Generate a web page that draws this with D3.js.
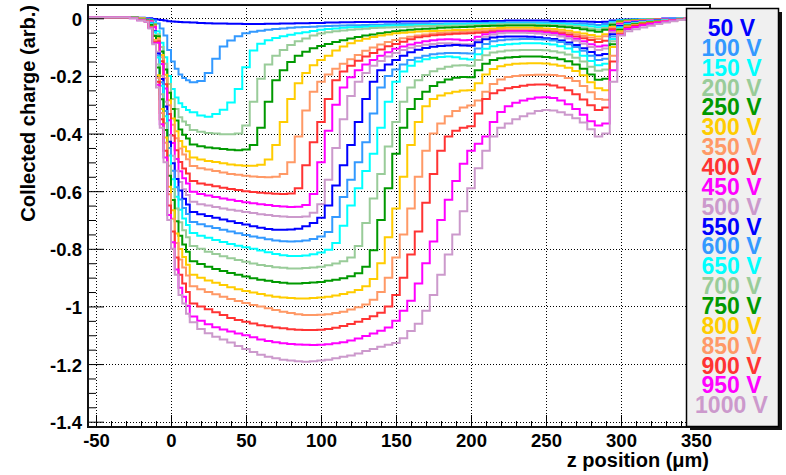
<!DOCTYPE html>
<html>
<head>
<meta charset="utf-8">
<script src="https://cdn.jsdelivr.net/npm/d3@7"></script>
<style>
  body { margin: 0; background: #fff; }
  svg { display: block; font-family: "Liberation Sans", Arial, sans-serif; font-weight: bold; }
</style>
</head>
<body>
<svg id="chart" width="786" height="475"></svg>
<script>
// bin edges along z (um): 5 um bins, 2.5 um bins across the entrance edge
const zEdges = [...d3.range(-57.5, -17.5, 5), ...d3.range(-17.5, 12.5, 2.5), ...d3.range(12.5, 357.6, 5)];

const voltages = [50, 100, 150, 200, 250, 300, 350, 400, 450, 500,
  550, 600, 650, 700, 750, 800, 850, 900, 950, 1000];
const colors = ["#0000ff", "#3399ff", "#00ffff", "#99cc99", "#009900",
  "#ffcc00", "#ff9966", "#ff3333", "#ff00ff", "#cc99cc",
  "#0000ff", "#3399ff", "#00ffff", "#99cc99", "#009900",
  "#ffcc00", "#ff9966", "#ff3333", "#ff00ff", "#cc99cc"];

const xTicks = [-50, 0, 50, 100, 150, 200, 250, 300, 350];
const yTicks = [0, -0.2, -0.4, -0.6, -0.8, -1, -1.2, -1.4];

// collected charge per bin, one array per bias voltage
const q50 = [0.003, 0.003, 0.003, 0.003, 0.003, 0.003, 0.003, 0.002,
  0.001, 0.0, -0.002, -0.004, -0.006, -0.008, -0.01, -0.011, -0.012, -0.013, -0.014, -0.014,
  -0.015, -0.016,
  -0.017, -0.018, -0.018, -0.019, -0.019, -0.02, -0.02, -0.02, -0.019, -0.019, -0.018, -0.018, -0.017, -0.017, -0.016, -0.016,
  -0.015, -0.015, -0.014, -0.014, -0.013, -0.013, -0.013, -0.012, -0.012, -0.012, -0.011, -0.011, -0.011, -0.011, -0.01, -0.01, -0.01, -0.01, -0.01, -0.01,
  -0.01, -0.009, -0.009, -0.009, -0.008, -0.008, -0.008, -0.008, -0.008, -0.008, -0.009, -0.009, -0.01, -0.01, -0.011, -0.012, -0.013, -0.012, -0.008, -0.005,
  -0.004, -0.003, -0.003, -0.002, -0.002, -0.001, -0.001, 0, 0, 0, 0];
const q100 = [0.004, 0.004, 0.004, 0.004, 0.004, 0.004, 0.003, 0.001,
  0.0, -0.003, -0.008, -0.018, -0.035, -0.06, -0.11, -0.15, -0.175, -0.195, -0.207, -0.215,
  -0.222, -0.218,
  -0.19, -0.14, -0.098, -0.077, -0.062, -0.052, -0.047, -0.043, -0.04, -0.037, -0.035, -0.033, -0.031, -0.03, -0.029, -0.028,
  -0.027, -0.026, -0.025, -0.024, -0.024, -0.023, -0.022, -0.022, -0.021, -0.021, -0.02, -0.02, -0.02, -0.019, -0.019, -0.019, -0.018, -0.018, -0.018, -0.017,
  -0.016, -0.016, -0.015, -0.015, -0.015, -0.015, -0.015, -0.015, -0.015, -0.015, -0.016, -0.016, -0.017, -0.018, -0.019, -0.021, -0.023, -0.02, -0.012, -0.007,
  -0.005, -0.004, -0.003, -0.003, -0.002, -0.002, -0.001, -0.001, 0, 0, 0];
const q150 = [0.004, 0.004, 0.004, 0.004, 0.004, 0.004, 0.003, 0.0,
  -0.002, -0.006, -0.016, -0.045, -0.085, -0.135, -0.2, -0.245, -0.275, -0.295, -0.308, -0.318,
  -0.326, -0.337,
  -0.342, -0.332, -0.317, -0.292, -0.245, -0.17, -0.112, -0.088, -0.076, -0.068, -0.062, -0.057, -0.052, -0.048, -0.044, -0.04,
  -0.037, -0.035, -0.033, -0.031, -0.03, -0.029, -0.028, -0.027, -0.026, -0.025, -0.025, -0.024, -0.023, -0.023, -0.022, -0.022, -0.021, -0.021, -0.021, -0.02,
  -0.019, -0.019, -0.018, -0.018, -0.018, -0.018, -0.018, -0.018, -0.018, -0.019, -0.019, -0.02, -0.021, -0.023, -0.025, -0.028, -0.031, -0.027, -0.015, -0.008,
  -0.006, -0.005, -0.004, -0.003, -0.003, -0.002, -0.002, -0.001, -0.001, 0, 0];
const q200 = [0.004, 0.004, 0.004, 0.004, 0.004, 0.004, 0.003, 0.0,
  -0.002, -0.007, -0.02, -0.055, -0.1, -0.158, -0.228, -0.28, -0.315, -0.343, -0.358, -0.37,
  -0.388, -0.394,
  -0.398, -0.4, -0.402, -0.402, -0.4, -0.372, -0.29, -0.21, -0.16, -0.13, -0.11, -0.093, -0.08, -0.07, -0.06, -0.053,
  -0.048, -0.045, -0.042, -0.04, -0.038, -0.036, -0.034, -0.033, -0.032, -0.031, -0.03, -0.029, -0.028, -0.027, -0.027, -0.026, -0.026, -0.025, -0.025, -0.024,
  -0.023, -0.022, -0.022, -0.021, -0.021, -0.021, -0.021, -0.021, -0.022, -0.022, -0.023, -0.024, -0.026, -0.028, -0.031, -0.035, -0.039, -0.034, -0.018, -0.009,
  -0.007, -0.006, -0.005, -0.004, -0.003, -0.003, -0.002, -0.001, -0.001, 0, 0];
const q250 = [0.004, 0.004, 0.004, 0.004, 0.004, 0.004, 0.003, -0.001,
  -0.003, -0.008, -0.022, -0.062, -0.115, -0.178, -0.258, -0.315, -0.355, -0.386, -0.404, -0.417,
  -0.438, -0.444,
  -0.448, -0.451, -0.454, -0.456, -0.458, -0.455, -0.44, -0.38, -0.29, -0.215, -0.18, -0.152, -0.13, -0.116, -0.104, -0.096,
  -0.089, -0.082, -0.076, -0.07, -0.065, -0.06, -0.056, -0.052, -0.048, -0.045, -0.042, -0.04, -0.038, -0.036, -0.035, -0.033, -0.032, -0.031, -0.03, -0.029,
  -0.028, -0.027, -0.026, -0.026, -0.025, -0.025, -0.025, -0.025, -0.026, -0.026, -0.027, -0.029, -0.031, -0.034, -0.038, -0.042, -0.047, -0.04, -0.022, -0.011,
  -0.008, -0.007, -0.006, -0.005, -0.004, -0.003, -0.002, -0.002, -0.001, 0, 0];
const q300 = [0.004, 0.004, 0.004, 0.004, 0.004, 0.004, 0.003, -0.001,
  -0.003, -0.009, -0.025, -0.069, -0.127, -0.196, -0.284, -0.348, -0.392, -0.426, -0.446, -0.461,
  -0.483, -0.49,
  -0.495, -0.499, -0.503, -0.507, -0.51, -0.512, -0.512, -0.508, -0.49, -0.44, -0.36, -0.28, -0.225, -0.19, -0.163, -0.145,
  -0.13, -0.112, -0.098, -0.087, -0.078, -0.071, -0.065, -0.06, -0.056, -0.052, -0.05, -0.048, -0.046, -0.045, -0.044, -0.043, -0.042, -0.041, -0.041, -0.04,
  -0.038, -0.036, -0.035, -0.034, -0.033, -0.033, -0.033, -0.033, -0.034, -0.035, -0.037, -0.04, -0.043, -0.048, -0.053, -0.058, -0.063, -0.055, -0.03, -0.015,
  -0.01, -0.008, -0.006, -0.005, -0.004, -0.003, -0.002, -0.002, -0.001, 0, 0];
const q350 = [0.004, 0.004, 0.004, 0.004, 0.004, 0.004, 0.003, -0.001,
  -0.003, -0.009, -0.026, -0.073, -0.135, -0.208, -0.302, -0.369, -0.416, -0.452, -0.473, -0.489,
  -0.513, -0.52,
  -0.525, -0.53, -0.535, -0.54, -0.543, -0.546, -0.549, -0.551, -0.552, -0.55, -0.54, -0.5, -0.41, -0.32, -0.255, -0.22,
  -0.195, -0.175, -0.158, -0.142, -0.127, -0.113, -0.101, -0.091, -0.082, -0.075, -0.069, -0.064, -0.06, -0.056, -0.053, -0.051, -0.049, -0.048, -0.047, -0.046,
  -0.044, -0.042, -0.041, -0.04, -0.039, -0.039, -0.039, -0.039, -0.04, -0.041, -0.043, -0.046, -0.05, -0.055, -0.061, -0.067, -0.072, -0.062, -0.034, -0.017,
  -0.011, -0.009, -0.007, -0.006, -0.005, -0.004, -0.003, -0.002, -0.001, 0, 0];
const q400 = [0.004, 0.004, 0.004, 0.004, 0.004, 0.004, 0.003, -0.002,
  -0.003, -0.01, -0.029, -0.08, -0.149, -0.229, -0.332, -0.407, -0.458, -0.499, -0.521, -0.539,
  -0.565, -0.573,
  -0.578, -0.583, -0.588, -0.592, -0.596, -0.6, -0.603, -0.605, -0.607, -0.609, -0.61, -0.608, -0.59, -0.51, -0.43, -0.36,
  -0.28, -0.215, -0.185, -0.165, -0.147, -0.133, -0.12, -0.108, -0.097, -0.089, -0.081, -0.073, -0.066, -0.062, -0.059, -0.057, -0.055, -0.054, -0.053, -0.052,
  -0.05, -0.048, -0.046, -0.045, -0.044, -0.044, -0.044, -0.044, -0.045, -0.046, -0.048, -0.052, -0.057, -0.063, -0.069, -0.075, -0.082, -0.078, -0.038, -0.019,
  -0.012, -0.01, -0.008, -0.006, -0.005, -0.004, -0.003, -0.002, -0.001, 0, 0];
const q450 = [0.004, 0.004, 0.004, 0.004, 0.004, 0.004, 0.002, -0.002,
  -0.004, -0.011, -0.031, -0.085, -0.159, -0.244, -0.354, -0.433, -0.488, -0.531, -0.555, -0.573,
  -0.602, -0.61,
  -0.615, -0.62, -0.625, -0.63, -0.634, -0.638, -0.642, -0.645, -0.648, -0.651, -0.653, -0.655, -0.654, -0.648, -0.61, -0.5,
  -0.39, -0.3, -0.24, -0.205, -0.18, -0.16, -0.145, -0.13, -0.118, -0.106, -0.098, -0.091, -0.085, -0.08, -0.076, -0.074, -0.073, -0.074, -0.076, -0.075,
  -0.064, -0.055, -0.049, -0.046, -0.045, -0.045, -0.045, -0.046, -0.047, -0.049, -0.052, -0.057, -0.063, -0.071, -0.08, -0.09, -0.098, -0.094, -0.043, -0.021,
  -0.013, -0.011, -0.009, -0.007, -0.005, -0.004, -0.003, -0.002, -0.001, 0, 0];
const q500 = [0.004, 0.004, 0.004, 0.004, 0.004, 0.004, 0.002, -0.003,
  -0.005, -0.015, -0.042, -0.116, -0.2, -0.29, -0.406, -0.477, -0.529, -0.568, -0.593, -0.613,
  -0.637, -0.645,
  -0.65, -0.655, -0.66, -0.664, -0.668, -0.672, -0.676, -0.68, -0.683, -0.686, -0.688, -0.69, -0.69, -0.688, -0.675, -0.645,
  -0.56, -0.45, -0.35, -0.27, -0.22, -0.19, -0.165, -0.148, -0.133, -0.12, -0.11, -0.102, -0.096, -0.092, -0.089, -0.087, -0.087, -0.088, -0.09, -0.09,
  -0.075, -0.064, -0.056, -0.052, -0.05, -0.05, -0.05, -0.051, -0.053, -0.055, -0.058, -0.063, -0.07, -0.078, -0.088, -0.1, -0.11, -0.105, -0.048, -0.024,
  -0.015, -0.012, -0.01, -0.008, -0.006, -0.004, -0.003, -0.002, -0.001, 0, 0];
const q550 = [0.004, 0.004, 0.004, 0.004, 0.004, 0.004, 0.002, -0.003,
  -0.005, -0.016, -0.044, -0.122, -0.211, -0.306, -0.428, -0.503, -0.558, -0.598, -0.626, -0.646,
  -0.672, -0.68,
  -0.686, -0.692, -0.698, -0.704, -0.71, -0.716, -0.722, -0.727, -0.731, -0.734, -0.734, -0.733, -0.73, -0.722, -0.71, -0.692,
  -0.65, -0.58, -0.51, -0.44, -0.36, -0.28, -0.22, -0.18, -0.16, -0.145, -0.13, -0.118, -0.109, -0.103, -0.099, -0.096, -0.094, -0.093, -0.094, -0.095,
  -0.083, -0.073, -0.067, -0.064, -0.063, -0.063, -0.063, -0.064, -0.066, -0.069, -0.072, -0.077, -0.084, -0.093, -0.104, -0.117, -0.128, -0.124, -0.055, -0.027,
  -0.017, -0.013, -0.011, -0.009, -0.007, -0.005, -0.004, -0.003, -0.002, -0.001, 0];
const q600 = [0.004, 0.004, 0.004, 0.004, 0.004, 0.004, 0.002, -0.003,
  -0.006, -0.017, -0.046, -0.129, -0.222, -0.322, -0.45, -0.529, -0.586, -0.629, -0.658, -0.679,
  -0.707, -0.715,
  -0.722, -0.728, -0.734, -0.74, -0.746, -0.752, -0.757, -0.762, -0.767, -0.771, -0.774, -0.775, -0.774, -0.771, -0.766, -0.757,
  -0.742, -0.69, -0.62, -0.56, -0.5, -0.43, -0.33, -0.24, -0.2, -0.178, -0.16, -0.145, -0.137, -0.13, -0.125, -0.122, -0.12, -0.12, -0.121, -0.122,
  -0.105, -0.089, -0.08, -0.076, -0.074, -0.073, -0.072, -0.072, -0.073, -0.074, -0.077, -0.082, -0.09, -0.1, -0.113, -0.13, -0.145, -0.14, -0.063, -0.03,
  -0.019, -0.015, -0.012, -0.01, -0.008, -0.006, -0.004, -0.003, -0.002, -0.001, 0];
const q650 = [0.004, 0.004, 0.004, 0.004, 0.004, 0.004, 0.002, -0.004,
  -0.006, -0.018, -0.049, -0.136, -0.234, -0.34, -0.476, -0.559, -0.619, -0.664, -0.695, -0.717,
  -0.745, -0.755,
  -0.762, -0.769, -0.776, -0.783, -0.789, -0.795, -0.8, -0.806, -0.812, -0.818, -0.822, -0.825, -0.825, -0.823, -0.819, -0.813,
  -0.803, -0.78, -0.72, -0.65, -0.59, -0.53, -0.47, -0.38, -0.29, -0.22, -0.185, -0.165, -0.15, -0.142, -0.137, -0.134, -0.133, -0.135, -0.14, -0.143,
  -0.125, -0.106, -0.097, -0.093, -0.09, -0.088, -0.087, -0.087, -0.087, -0.088, -0.091, -0.097, -0.105, -0.116, -0.13, -0.148, -0.163, -0.158, -0.072, -0.034,
  -0.021, -0.016, -0.013, -0.011, -0.009, -0.007, -0.005, -0.003, -0.002, -0.001, 0];
const q700 = [0.004, 0.004, 0.004, 0.004, 0.004, 0.004, 0.002, -0.004,
  -0.007, -0.022, -0.058, -0.16, -0.264, -0.364, -0.512, -0.592, -0.66, -0.708, -0.736, -0.76,
  -0.79, -0.8,
  -0.81, -0.818, -0.826, -0.833, -0.839, -0.845, -0.851, -0.856, -0.86, -0.864, -0.866, -0.868, -0.868, -0.867, -0.865, -0.862,
  -0.857, -0.851, -0.843, -0.83, -0.79, -0.71, -0.625, -0.54, -0.445, -0.36, -0.29, -0.24, -0.215, -0.197, -0.184, -0.175, -0.168, -0.164, -0.163, -0.165,
  -0.145, -0.128, -0.119, -0.115, -0.112, -0.111, -0.11, -0.11, -0.11, -0.111, -0.114, -0.119, -0.126, -0.137, -0.15, -0.168, -0.182, -0.178, -0.08, -0.037,
  -0.023, -0.018, -0.014, -0.012, -0.01, -0.008, -0.006, -0.004, -0.002, -0.001, 0];
const q750 = [0.004, 0.004, 0.004, 0.004, 0.004, 0.004, 0.002, -0.004,
  -0.008, -0.023, -0.061, -0.171, -0.281, -0.388, -0.546, -0.631, -0.704, -0.755, -0.785, -0.81,
  -0.843, -0.853,
  -0.862, -0.87, -0.877, -0.884, -0.89, -0.896, -0.902, -0.907, -0.911, -0.915, -0.918, -0.92, -0.92, -0.919, -0.917, -0.915,
  -0.911, -0.907, -0.902, -0.895, -0.885, -0.862, -0.805, -0.7, -0.59, -0.47, -0.38, -0.315, -0.28, -0.255, -0.235, -0.222, -0.212, -0.206, -0.204, -0.205,
  -0.18, -0.158, -0.145, -0.139, -0.136, -0.134, -0.133, -0.133, -0.133, -0.134, -0.137, -0.142, -0.149, -0.16, -0.175, -0.195, -0.213, -0.21, -0.09, -0.04,
  -0.025, -0.02, -0.016, -0.013, -0.011, -0.009, -0.006, -0.004, -0.002, -0.001, 0];
const q800 = [0.004, 0.004, 0.004, 0.004, 0.004, 0.004, 0.002, -0.005,
  -0.01, -0.029, -0.075, -0.198, -0.315, -0.414, -0.585, -0.666, -0.747, -0.801, -0.828, -0.855,
  -0.89, -0.9,
  -0.91, -0.918, -0.926, -0.933, -0.94, -0.946, -0.952, -0.957, -0.962, -0.966, -0.969, -0.971, -0.972, -0.972, -0.971, -0.969,
  -0.966, -0.962, -0.957, -0.951, -0.943, -0.93, -0.905, -0.85, -0.76, -0.66, -0.55, -0.44, -0.36, -0.305, -0.28, -0.268, -0.26, -0.255, -0.251, -0.25,
  -0.225, -0.195, -0.176, -0.166, -0.161, -0.158, -0.157, -0.156, -0.156, -0.157, -0.16, -0.165, -0.172, -0.183, -0.198, -0.222, -0.243, -0.25, -0.1, -0.045,
  -0.028, -0.022, -0.018, -0.015, -0.012, -0.009, -0.007, -0.005, -0.003, -0.001, 0];
const q850 = [0.004, 0.004, 0.004, 0.004, 0.004, 0.004, 0.001, -0.005,
  -0.01, -0.03, -0.078, -0.207, -0.329, -0.432, -0.611, -0.696, -0.78, -0.837, -0.865, -0.893,
  -0.93, -0.94,
  -0.95, -0.958, -0.966, -0.974, -0.981, -0.988, -0.995, -1.0, -1.006, -1.012, -1.018, -1.023, -1.027, -1.03, -1.03, -1.029,
  -1.027, -1.023, -1.018, -1.011, -1.003, -0.993, -0.977, -0.95, -0.9, -0.83, -0.75, -0.66, -0.55, -0.46, -0.4, -0.365, -0.34, -0.322, -0.31, -0.303,
  -0.285, -0.255, -0.228, -0.212, -0.204, -0.2, -0.198, -0.197, -0.196, -0.196, -0.197, -0.2, -0.207, -0.218, -0.235, -0.257, -0.28, -0.283, -0.13, -0.05,
  -0.03, -0.024, -0.019, -0.016, -0.013, -0.01, -0.007, -0.005, -0.003, -0.001, 0];
const q900 = [0.004, 0.004, 0.004, 0.004, 0.004, 0.004, 0.001, -0.006,
  -0.011, -0.032, -0.083, -0.22, -0.35, -0.46, -0.65, -0.74, -0.83, -0.89, -0.92, -0.95,
  -0.99, -1.0,
  -1.01, -1.02, -1.03, -1.04, -1.047, -1.053, -1.059, -1.065, -1.069, -1.073, -1.076, -1.079, -1.081, -1.082, -1.082, -1.081,
  -1.078, -1.074, -1.068, -1.061, -1.053, -1.044, -1.034, -1.022, -1.0, -0.96, -0.9, -0.82, -0.74, -0.64, -0.54, -0.46, -0.41, -0.39, -0.38, -0.375,
  -0.33, -0.28, -0.26, -0.25, -0.243, -0.238, -0.234, -0.231, -0.23, -0.23, -0.233, -0.24, -0.25, -0.264, -0.282, -0.302, -0.318, -0.31, -0.15, -0.055,
  -0.033, -0.026, -0.021, -0.017, -0.014, -0.011, -0.008, -0.005, -0.003, -0.001, 0];
const q950 = [0.004, 0.004, 0.004, 0.004, 0.004, 0.004, 0.0, -0.007,
  -0.012, -0.034, -0.087, -0.231, -0.368, -0.483, -0.683, -0.777, -0.872, -0.935, -0.966, -0.998,
  -1.035, -1.05,
  -1.062, -1.072, -1.08, -1.087, -1.094, -1.1, -1.107, -1.115, -1.12, -1.124, -1.128, -1.13, -1.132, -1.133, -1.134, -1.133,
  -1.131, -1.128, -1.124, -1.118, -1.111, -1.103, -1.094, -1.084, -1.073, -1.05, -1.015, -0.98, -0.92, -0.85, -0.775, -0.7, -0.63, -0.565, -0.505, -0.46,
  -0.435, -0.41, -0.36, -0.325, -0.305, -0.293, -0.285, -0.279, -0.275, -0.274, -0.277, -0.285, -0.298, -0.315, -0.335, -0.357, -0.372, -0.365, -0.18, -0.058,
  -0.037, -0.03, -0.024, -0.019, -0.015, -0.011, -0.008, -0.005, -0.003, -0.001, 0];
const q1000 = [0.004, 0.004, 0.004, 0.004, 0.004, 0.004, 0.0, -0.008,
  -0.012, -0.035, -0.09, -0.24, -0.38, -0.5, -0.7, -0.8, -0.89, -0.96, -0.99, -1.025,
  -1.055, -1.078,
  -1.093, -1.105, -1.115, -1.125, -1.137, -1.148, -1.158, -1.168, -1.175, -1.18, -1.185, -1.188, -1.19, -1.192, -1.19, -1.188,
  -1.185, -1.18, -1.175, -1.17, -1.163, -1.155, -1.148, -1.14, -1.133, -1.127, -1.11, -1.085, -1.06, -1.015, -0.96, -0.89, -0.82, -0.75, -0.67, -0.59,
  -0.52, -0.46, -0.41, -0.38, -0.365, -0.35, -0.34, -0.33, -0.322, -0.318, -0.32, -0.326, -0.335, -0.347, -0.362, -0.385, -0.41, -0.4, -0.22, -0.06,
  -0.045, -0.038, -0.032, -0.026, -0.02, -0.015, -0.01, -0.006, -0.003, -0.001, 0];

const series = [q50, q100, q150, q200, q250, q300, q350, q400, q450, q500,
  q550, q600, q650, q700, q750, q800, q850, q900, q950, q1000];

const frame = { left: 88, top: 5, right: 710, bottom: 427 };

const svg = d3.select("#chart");

const x = d3.scaleLinear().domain([-50, 350]).range([96, 696]);
const y = d3.scaleLinear().domain([0, -1.4]).range([18.3, 421.7]);

svg.append("rect").attr("width", 786).attr("height", 475).attr("fill", "#fff");

svg.append("clipPath").attr("id", "clip")
  .append("rect")
  .attr("x", frame.left).attr("y", frame.top)
  .attr("width", frame.right - frame.left)
  .attr("height", frame.bottom - frame.top);

// dotted grid
const grid = svg.append("g")
  .attr("stroke", "#000")
  .attr("stroke-width", 1)
  .attr("stroke-dasharray", "1,2")
  .attr("shape-rendering", "crispEdges");
grid.selectAll(".gx").data(xTicks).join("line")
  .attr("class", "gx")
  .attr("x1", d => Math.round(x(d)) + 0.5).attr("x2", d => Math.round(x(d)) + 0.5)
  .attr("y1", frame.top).attr("y2", frame.bottom);
grid.selectAll(".gy").data(yTicks).join("line")
  .attr("class", "gy")
  .attr("y1", d => Math.round(y(d)) + 0.5).attr("y2", d => Math.round(y(d)) + 0.5)
  .attr("x1", frame.left).attr("x2", frame.right);

// histograms: each bin drawn flat from its low edge to its high edge
const line = d3.line()
  .x(d => x(d[0]))
  .y(d => y(d[1]))
  .curve(d3.curveStepAfter);

function toSteps(vals) {
  const pts = vals.map((v, i) => [zEdges[i], v]);
  pts.push([zEdges[vals.length], vals[vals.length - 1]]);
  return pts;
}

svg.append("g")
  .attr("clip-path", "url(#clip)")
  .selectAll("path")
  .data(series)
  .join("path")
  .attr("fill", "none")
  .attr("stroke", (d, i) => colors[i])
  .attr("stroke-width", 2)
  .attr("d", d => line(toSteps(d)));

// axes, ticks pointing into the frame
const xMinor = d3.range(-50, 351, 10).filter(d => d % 50 !== 0);
const yMinor = d3.range(0, 29).map(i => -i * 0.05).filter((d, i) => i % 4 !== 0);

function styleAxis(g) {
  g.select(".domain").remove();
  g.selectAll("line").attr("stroke", "#000").attr("stroke-width", 1);
  g.selectAll("text")
    .attr("fill", "#000")
    .style("font-family", "'Liberation Sans', Arial, sans-serif")
    .style("font-weight", "bold")
    .style("font-size", "18.5px");
}

svg.append("g")
  .attr("transform", `translate(0,${frame.bottom})`)
  .call(d3.axisBottom(x).tickValues(xTicks).tickSize(-12).tickPadding(7).tickFormat(d => String(d)))
  .call(styleAxis);
svg.append("g")
  .attr("transform", `translate(0,${frame.bottom})`)
  .call(d3.axisBottom(x).tickValues(xMinor).tickSize(-6).tickFormat(""))
  .call(styleAxis);

svg.append("g")
  .attr("transform", `translate(${frame.left},0)`)
  .call(d3.axisLeft(y).tickValues(yTicks).tickSize(-16).tickPadding(6).tickFormat(d => String(d)))
  .call(styleAxis)
  .selectAll("text").attr("dy", "0.38em");
svg.append("g")
  .attr("transform", `translate(${frame.left},0)`)
  .call(d3.axisLeft(y).tickValues(yMinor).tickSize(-8).tickFormat(""))
  .call(styleAxis);

// frame
svg.append("rect")
  .attr("x", frame.left).attr("y", frame.top)
  .attr("width", frame.right - frame.left)
  .attr("height", frame.bottom - frame.top)
  .attr("fill", "none")
  .attr("stroke", "#111")
  .attr("stroke-width", 2);

// axis titles
svg.append("text")
  .attr("x", frame.right - 1)
  .attr("y", 467)
  .attr("text-anchor", "end")
  .style("font-size", "20px")
  .text("z position (\u03bcm)");

svg.append("text")
  .attr("transform", `translate(35,${frame.top}) rotate(-90)`)
  .attr("text-anchor", "end")
  .style("font-size", "20px")
  .text("Collected charge (arb.)");

// legend with shadow
const legend = svg.append("g");
legend.append("rect")
  .attr("x", 690).attr("y", 12)
  .attr("width", 92).attr("height", 418)
  .attr("fill", "#111");
legend.append("rect")
  .attr("x", 686.5).attr("y", 8.5)
  .attr("width", 92).attr("height", 418)
  .attr("fill", "#f0f0f0")
  .attr("stroke", "#000")
  .attr("stroke-width", 1.5);
legend.selectAll("text")
  .data(voltages)
  .join("text")
  .attr("x", 731.5)
  .attr("y", (d, i) => 36 + i * 19.86)
  .attr("text-anchor", "middle")
  .attr("fill", (d, i) => colors[i])
  .style("font-size", "23px")
  .text(d => d + " V");
</script>
</body>
</html>
